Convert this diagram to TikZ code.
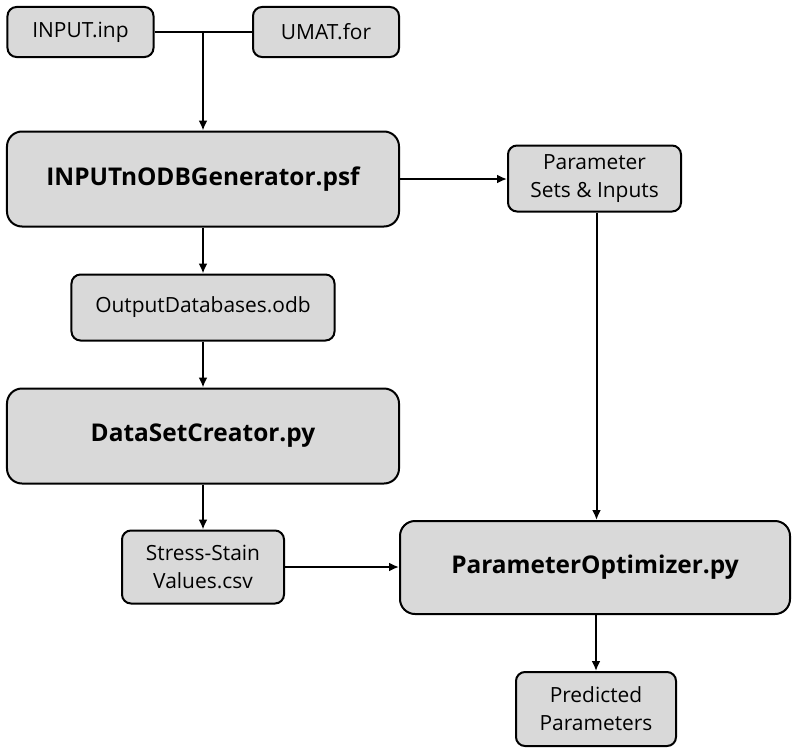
\documentclass[tikz,border=0pt]{standalone}
\usepackage{fontspec}
\setmainfont{Open Sans}
\usetikzlibrary{arrows.meta}
\begin{document}
\begin{tikzpicture}[x=1bp,y=-1bp,
  box/.style={draw=black, line width=2bp, fill=boxgray, rounded corners=9bp,
    inner sep=0pt, align=center, font=\fontsize{21}{28}\selectfont},
  bigbox/.style={box, rounded corners=15bp, font=\fontsize{24.5}{28}\selectfont\bfseries},
  flow/.style={line width=2bp, -{Latex[length=10bp,width=9bp]}},
  link/.style={line width=2bp}]
\definecolor{boxgray}{HTML}{D9D9D9}
\useasboundingbox (0,0) rectangle (792,749);

% source files
\node[box, minimum width=146bp, minimum height=50bp] (inp) at (80.5,32) {INPUT.inp};
\node[box, minimum width=146bp, minimum height=50bp] (umat) at (326,32) {UMAT.for};

% processing scripts and their data
\node[bigbox, minimum width=392bp, minimum height=95bp] (gen) at (203,179) {INPUTnODBGenerator.psf};
\node[box, minimum width=173bp, minimum height=66bp] (par) at (594.5,178.5) {Parameter\\Sets \& Inputs};
\node[box, minimum width=263bp, minimum height=66bp] (odb) at (203,307.5) {OutputDatabases.odb};
\node[bigbox, minimum width=392bp, minimum height=95bp] (dsc) at (203,436) {DataSetCreator.py};
\node[box, minimum width=162bp, minimum height=73bp] (ssv) at (203,567) {Stress-Stain\\Values.csv};
\node[bigbox, minimum width=390bp, minimum height=93bp] (opt) at (595,567.5) {ParameterOptimizer.py};
\node[box, minimum width=160bp, minimum height=74bp] (pred) at (596,709) {Predicted\\Parameters};

% connectors
\coordinate (j) at (gen.north |- inp.east);
\draw[link] (inp.east) -- (umat.west);
\draw[flow] (j) -- (gen.north);
\draw[flow] (gen.east) -- (gen.east -| par.west);
\draw[flow] (gen.south) -- (odb.north);
\draw[flow] (odb.south) -- (dsc.north);
\draw[flow] (dsc.south) -- (ssv.north);
\draw[flow] (ssv.east) -- (ssv.east -| opt.west);
\draw[flow] (par.south -| opt.north) ++(1.5,0) coordinate (pt) -- (pt |- opt.north);
\draw[flow] (opt.south -| pred.north) -- (pred.north);
\end{tikzpicture}
\end{document}
